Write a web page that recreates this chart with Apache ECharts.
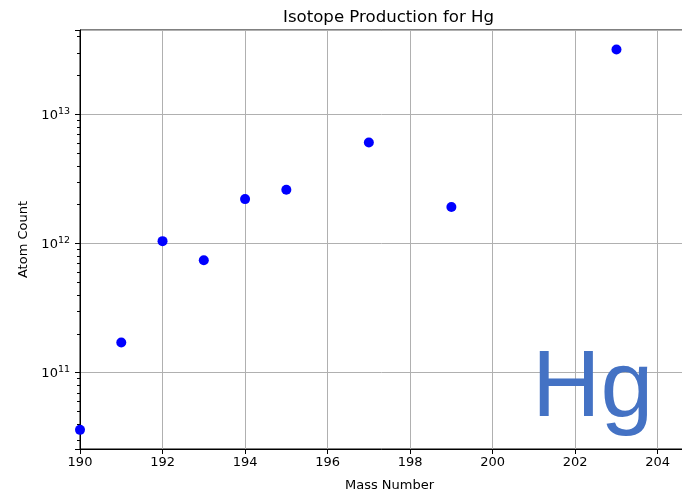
<!DOCTYPE html>
<html>
<head>
<meta charset="utf-8">
<script src="https://cdn.jsdelivr.net/npm/echarts@6/dist/echarts.min.js"></script>
<style>
  html, body { margin: 0; padding: 0; background: #fff; }
  #chart { width: 682px; height: 493px; }
</style>
</head>
<body>
<div id="chart"></div>
<script>
// Mercury isotope production: mass number vs. atom count
const massNumbers = [190, 191, 192, 193, 194, 195, 197, 199, 203];
const atomCounts = [3.6e10, 1.71e11, 1.04e12, 7.4e11, 2.2e12, 2.6e12, 6.04e12, 1.91e12, 3.16e13];

const xTicks = [190, 192, 194, 196, 198, 200, 202, 204];
const yDecades = [11, 12, 13];
const minorMultipliers = [2, 3, 4, 5, 6, 7, 8, 9];
const minorDecades = [10, 11, 12, 13];

const element = 'Hg';
const FONT = '"DejaVu Sans", sans-serif';

const Y_MIN = 2.56e10;
const Y_MAX = 4.48e13;

const minorTickValues = [];
minorDecades.forEach(d => minorMultipliers.forEach(m => minorTickValues.push(m * Math.pow(10, d))));

const GRID_LEFT = 80;

const chart = echarts.init(document.getElementById('chart'), null, { renderer: 'canvas' });

chart.setOption({
  animation: false,
  backgroundColor: '#fff',
  title: {
    text: 'Isotope Production for ' + element,
    left: 278,
    top: 4,
    textStyle: { fontFamily: FONT, fontWeight: 'normal', fontSize: 16.6, color: '#000' }
  },
  grid: {
    left: GRID_LEFT, right: -17, top: 30, bottom: 44,
    outerBoundsMode: 'none',
    containLabel: false,
    show: true, borderColor: '#000', borderWidth: 1, backgroundColor: 'transparent'
  },
  xAxis: {
    type: 'value',
    min: 190, max: 205, interval: 2,
    name: 'Mass Number',
    nameLocation: 'middle',
    nameGap: 30,
    nameTextStyle: { fontFamily: FONT, fontSize: 13, color: '#000' },
    axisLine: { show: true, lineStyle: { color: '#000', width: 1 } },
    axisTick: { show: true, length: 5, lineStyle: { color: '#000' } },
    axisLabel: {
      fontFamily: FONT, fontSize: 13, color: '#000', margin: 7,
      formatter: v => (xTicks.indexOf(v) >= 0 ? String(v) : '')
    },
    splitLine: { show: true, lineStyle: { color: '#b0b0b0', width: 1 } }
  },
  yAxis: {
    type: 'log',
    logBase: 10,
    min: Y_MIN, max: Y_MAX,
    name: 'Atom Count',
    nameLocation: 'middle',
    nameGap: 50,
    nameTextStyle: { fontFamily: FONT, fontSize: 13, color: '#000' },
    axisLine: { show: true, lineStyle: { color: '#000', width: 1 } },
    axisTick: { show: true, length: 5, lineStyle: { color: '#000' } },
    minorTick: { show: false },
    axisLabel: {
      fontFamily: FONT, fontSize: 13, color: '#000', margin: 10,
      formatter: v => {
        const e = Math.log10(v);
        const r = Math.round(e);
        if (Math.abs(e - r) > 1e-6 || yDecades.indexOf(r) < 0) return '';
        return '{b|10}{s|' + r + '}';
      },
      rich: {
        b: { fontFamily: FONT, fontSize: 13, color: '#000', verticalAlign: 'bottom' },
        s: { fontFamily: FONT, fontSize: 9.5, color: '#000', verticalAlign: 'top', padding: [0, 0, 6, 0] }
      }
    },
    splitLine: { show: true, lineStyle: { color: '#b0b0b0', width: 1 } }
  },
  graphic: [{
    type: 'text',
    left: 532,
    top: 342,
    style: {
      text: element,
      fontFamily: '"Liberation Sans", Arial, sans-serif',
      fontSize: 95,
      fill: '#4472C4'
    },
    z: 10
  }],
  series: [
    {
      type: 'scatter',
      data: massNumbers.map((m, i) => [m, atomCounts[i]]),
      symbol: 'circle',
      symbolSize: 10,
      itemStyle: { color: '#0000ff', opacity: 1 },
      clip: false,
      z: 5
    },
    {
      // minor log ticks on the left spine
      type: 'custom',
      clip: false,
      silent: true,
      data: minorTickValues.filter(v => v > Y_MIN && v < Y_MAX).map(v => [190, v]),
      renderItem: (params, api) => {
        const p = api.coord([api.value(0), api.value(1)]);
        const y = Math.round(p[1]) + 0.5;
        return {
          type: 'line',
          shape: { x1: GRID_LEFT - 3, y1: y, x2: GRID_LEFT, y2: y },
          style: { stroke: '#000', lineWidth: 1 }
        };
      },
      z: 3
    }
  ]
});
</script>
</body>
</html>
